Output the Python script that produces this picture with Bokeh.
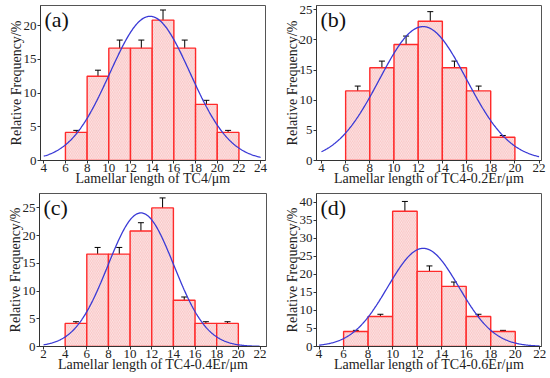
import numpy as np
from bokeh.plotting import figure
from bokeh.layouts import row, column
from bokeh.models import ColumnDataSource, Whisker, TeeHead, FixedTicker, Label, Range1d
from bokeh.embed import file_html
from bokeh.resources import INLINE

# ---------------- data ----------------
tags = ["(a)", "(b)", "(c)", "(d)"]
xlabels = ["Lamellar length of TC4/\u03bcm", "Lamellar length of TC4-0.2Er/\u03bcm",
           "Lamellar length of TC4-0.4Er/\u03bcm", "Lamellar length of TC4-0.6Er/\u03bcm"]

bin_left_a = [6, 8, 10, 12, 14, 16, 18, 20]
freq_a = [4.17, 12.5, 16.67, 16.67, 20.83, 16.67, 8.33, 4.17]
err_a = [0.3, 0.9, 1.2, 1.2, 1.5, 1.2, 0.6, 0.3]

bin_left_b = [6, 8, 10, 12, 14, 16, 18]
freq_b = [11.54, 15.38, 19.23, 23.08, 15.38, 11.54, 3.85]
err_b = [0.8, 1.1, 1.4, 1.6, 1.1, 0.8, 0.3]

bin_left_c = [4, 6, 8, 10, 12, 14, 16, 18]
freq_c = [4.17, 16.67, 16.67, 20.83, 25.0, 8.33, 4.17, 4.17]
err_c = [0.3, 1.2, 1.2, 1.5, 1.8, 0.6, 0.3, 0.3]

bin_left_d = [6, 8, 10, 12, 14, 16, 18]
freq_d = [4.17, 8.33, 37.5, 20.83, 16.67, 8.33, 4.17]
err_d = [0.3, 0.6, 2.7, 1.5, 1.2, 0.6, 0.3]

bin_width = 2

# Gaussian fit parameters: centre, sigma, peak height
fit_a = (13.8, 3.7, 21.4)
fit_b = (12.4, 3.6, 22.2)
fit_c = (11.0, 3.05, 24.1)
fit_d = (12.5, 2.9, 27.2)

xticks_a = list(range(4, 25, 2))
xticks_b = list(range(4, 23, 2))
xticks_c = list(range(2, 23, 2))
xticks_d = list(range(4, 23, 2))
yticks_a = [0, 5, 10, 15, 20]
yticks_b = [0, 5, 10, 15, 20, 25]
yticks_c = [0, 5, 10, 15, 20, 25]
yticks_d = [0, 5, 10, 15, 20, 25, 30, 35, 40]

panels = [
    dict(left=bin_left_a, freq=freq_a, err=err_a, fit=fit_a, xt=xticks_a, yt=yticks_a,
         xr=(3.7, 24.45), yr=(0, 23.0)),
    dict(left=bin_left_b, freq=freq_b, err=err_b, fit=fit_b, xt=xticks_b, yt=yticks_b,
         xr=(3.59, 22.2), yr=(0, 25.7)),
    dict(left=bin_left_c, freq=freq_c, err=err_c, fit=fit_c, xt=xticks_c, yt=yticks_c,
         xr=(1.63, 22.6), yr=(0, 27.6)),
    dict(left=bin_left_d, freq=freq_d, err=err_d, fit=fit_d, xt=xticks_d, yt=yticks_d,
         xr=(3.79, 22.14), yr=(0, 42.4)),
]

FONT = "Liberation Serif"
heights = [188, 188, 189, 189]
borders = [
    dict(min_border_left=40, min_border_right=10, min_border_top=5, min_border_bottom=20),
    dict(min_border_left=41, min_border_right=9, min_border_top=5, min_border_bottom=20),
    dict(min_border_left=39, min_border_right=9, min_border_top=5, min_border_bottom=31),
    dict(min_border_left=41, min_border_right=9, min_border_top=5, min_border_bottom=31),
]

figs = []
for i, pd_ in enumerate(panels):
    p = figure(width=275, height=heights[i], output_backend="svg", toolbar_location=None,
               x_range=Range1d(*pd_["xr"]), y_range=Range1d(*pd_["yr"]), **borders[i])
    p.background_fill_color = "white"
    p.border_fill_color = "white"
    p.outline_line_color = "#555555"
    p.outline_line_width = 1
    p.xgrid.visible = False
    p.ygrid.visible = False

    left = np.array(pd_["left"], dtype=float)
    freq = np.array(pd_["freq"], dtype=float)
    err = np.array(pd_["err"], dtype=float)
    src = ColumnDataSource(dict(left=left, right=left + bin_width, top=freq,
                                mid=left + bin_width / 2, up=freq + err, lo=freq - err))
    p.quad(left="left", right="right", bottom=0, top="top", source=src,
           fill_color="#fde8e8", line_color="#ff2a2a", line_width=1.4,
           hatch_pattern="\\", hatch_color="#f4a0a0", hatch_scale=3.5, hatch_weight=0.5)

    xc, sg, amp = pd_["fit"]
    xs = np.linspace(pd_["xt"][0], pd_["xt"][-1], 300)
    ys = amp * np.exp(-(xs - xc) ** 2 / (2 * sg ** 2))
    p.line(xs, ys, line_color="#3a3ad6", line_width=1.3)

    w = Whisker(base="mid", upper="up", lower="lo", source=src, line_color="black", line_width=1,
                upper_head=TeeHead(size=6, line_color="black", line_width=1),
                lower_head=TeeHead(size=6, line_color="black", line_width=1))
    p.add_layout(w)

    p.xaxis.ticker = FixedTicker(ticks=pd_["xt"])
    p.yaxis.ticker = FixedTicker(ticks=pd_["yt"])
    for ax in (p.xaxis[0], p.yaxis[0]):
        ax.minor_tick_line_color = None
        ax.major_tick_in = 0
        ax.major_tick_out = 3
        ax.axis_line_color = "#333333"
        ax.major_tick_line_color = "#333333"
        ax.major_label_text_font = FONT
        ax.major_label_text_font_size = "13px"
        ax.major_label_text_color = "#222222"
        ax.axis_label_text_font = FONT
        ax.axis_label_text_font_size = "14px"
        ax.axis_label_text_font_style = "normal"
        ax.axis_label_text_color = "#222222"
    p.yaxis.major_label_standoff = 1
    p.yaxis.axis_label_standoff = -3
    p.xaxis.major_label_standoff = 0
    p.xaxis.axis_label_standoff = -4
    p.xaxis.axis_label = xlabels[i]
    p.yaxis.axis_label = "Relative Frequency/%"

    p.add_layout(Label(x=pd_["xr"][0], y=pd_["yr"][1], text=tags[i],
                       x_offset=4, y_offset=-1,
                       text_font=FONT, text_font_size="22px", text_color="#111111",
                       text_baseline="top", text_align="left"))
    figs.append(p)

layout = column(row(figs[0], figs[1]), row(figs[2], figs[3]))
open("out.html", "w").write(file_html(layout, INLINE))
